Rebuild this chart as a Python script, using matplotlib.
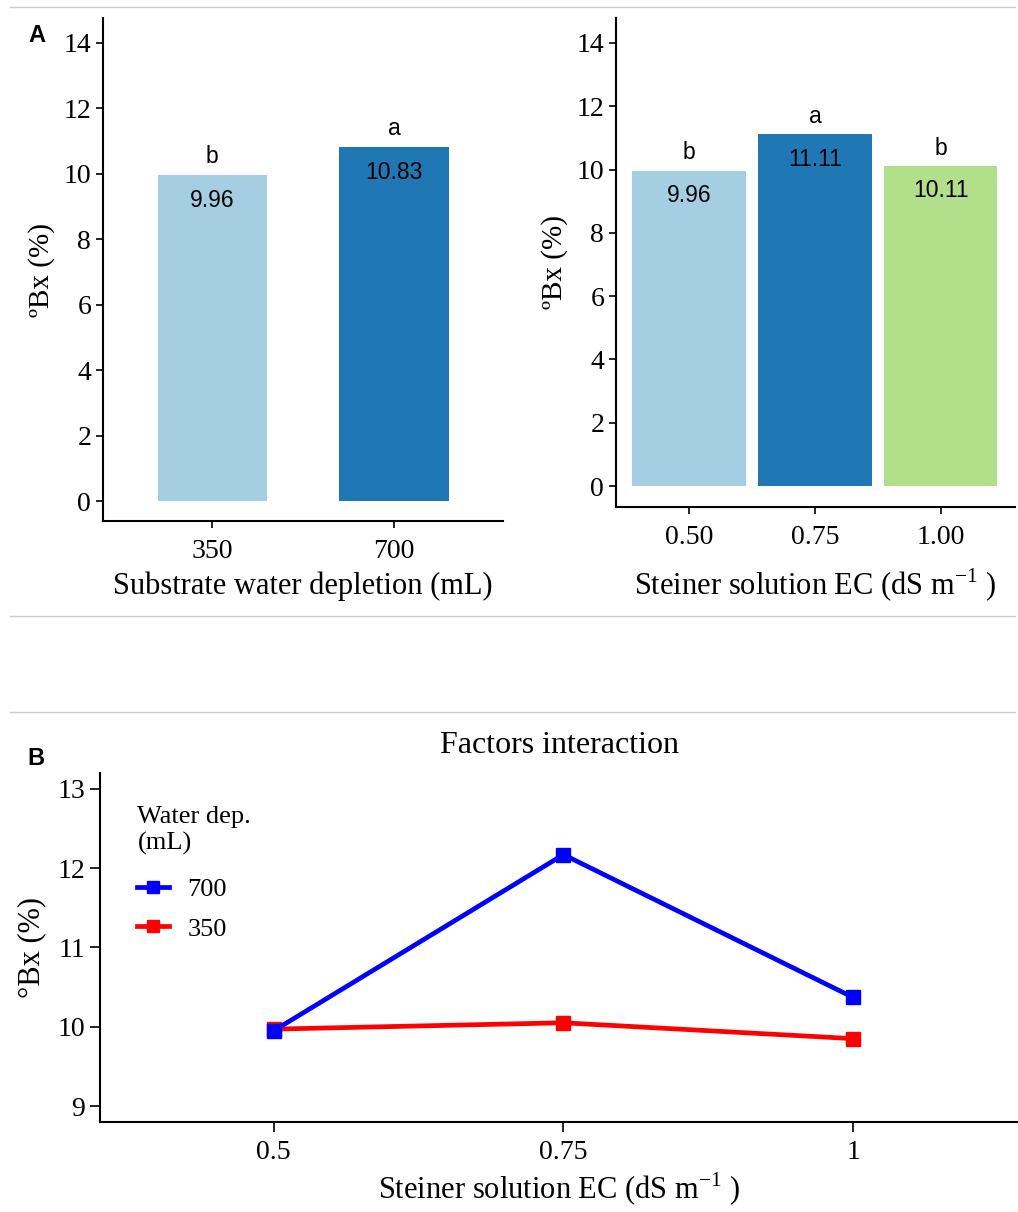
import matplotlib
matplotlib.use("Agg")
import matplotlib.pyplot as plt
from matplotlib.lines import Line2D

plt.rcParams['font.family'] = 'Liberation Serif'
plt.rcParams['mathtext.fontset'] = 'custom'
plt.rcParams['mathtext.rm'] = 'Liberation Serif'

# water depletion means
water_labels = ['350', '700']
water_means = [9.96, 10.83]
water_letters = ['b', 'a']
water_colors = ['#a6cee3', '#1f78b4']

# EC means
ec_labels = ['0.50', '0.75', '1.00']
ec_means = [9.96, 11.11, 10.11]
ec_letters = ['b', 'a', 'b']
ec_colors = ['#a6cee3', '#1f78b4', '#b2df8a']

# interaction
inter_ticks = ['0.5', '0.75', '1']
brix_700 = [9.95, 12.17, 10.37]
brix_350 = [9.97, 10.05, 9.85]

fig = plt.figure(figsize=(10.18, 12.12), dpi=100)

def style_axes(ax, size):
    for s in ['top', 'right']:
        ax.spines[s].set_visible(False)
    for s in ['left', 'bottom']:
        ax.spines[s].set_linewidth(1.5)
    ax.tick_params(direction='out', length=5, width=1.2, labelsize=size, colors='black')

def bar_panel(ax, labels, means, letters, colors, width, xlim, ylim, xlabel, lpad):
    pos = list(range(1, len(labels) + 1))
    ax.bar(pos, means, width=width, color=colors)
    for p, m, l in zip(pos, means, letters):
        ax.text(p, m - 0.78, f'{m:.2f}', ha='center', va='center',
                family='Liberation Sans', fontsize=16.5)
        ax.text(p, m + 0.57, l, ha='center', va='center',
                family='Liberation Sans', fontsize=16.5)
    ax.set_xticks(pos)
    ax.set_xticklabels(labels)
    ax.set_xlim(*xlim)
    ax.set_ylim(*ylim)
    ax.set_yticks(range(0, 15, 2))
    ax.set_xlabel(xlabel, fontsize=22, labelpad=lpad)
    ax.set_ylabel('ºBx (%)', fontsize=21, labelpad=6)
    style_axes(ax, 20)
    ax.tick_params(axis='x', pad=8)

ax1 = fig.add_axes([0.1012, 0.5701, 0.393, 0.415])
bar_panel(ax1, water_labels, water_means, water_letters, water_colors,
          0.6, (0.4, 2.6), (-0.61, 14.76), 'Substrate water depletion (mL)', 5)

ax2 = fig.add_axes([0.6051, 0.5817, 0.392, 0.4035])
bar_panel(ax2, ec_labels, ec_means, ec_letters, ec_colors,
          0.9, (0.42, 3.59), (-0.66, 14.79), r'Steiner solution EC (dS m$^{-1}$ )', 12)

ax3 = fig.add_axes([0.0982, 0.0743, 0.902, 0.288])
xs = [1, 2, 3]
ax3.plot(xs, brix_350, color='red', lw=3.4, marker='s', ms=10, label='350')
ax3.plot(xs, brix_700, color='blue', lw=3.4, marker='s', ms=10, label='700')
ax3.set_xticks(xs)
ax3.set_xticklabels(inter_ticks)
ax3.set_xlim(0.4, 3.57)
ax3.set_ylim(8.8, 13.2)
ax3.set_yticks([9, 10, 11, 12, 13])
ax3.set_title('Factors interaction', fontsize=23, pad=14)
ax3.set_xlabel(r'Steiner solution EC (dS m$^{-1}$ )', fontsize=22, labelpad=4)
ax3.set_ylabel('°Bx (%)', fontsize=22, labelpad=8)
style_axes(ax3, 20)
ax3.tick_params(length=7)
ax3.tick_params(axis='x', pad=6)
h, l = ax3.get_legend_handles_labels()
leg = ax3.legend(h[::-1], l[::-1], title='Water dep.\n(mL)', loc='upper left',
                 bbox_to_anchor=(0.015, 0.972), frameon=False, fontsize=19,
                 title_fontsize=19, handlelength=1.2, labelspacing=0.62,
                 handletextpad=0.7, markerscale=0.9)
leg._legend_box.align = 'left'
leg._legend_box.sep = 16

# panel letters
fig.text(0.028, 0.971, 'A', family='Liberation Sans', weight='bold', fontsize=17,
         va='center')
fig.text(0.027, 0.374, 'B', family='Liberation Sans', weight='bold', fontsize=17,
         va='center')

# separators
for y in [7, 616, 712]:
    fig.add_artist(Line2D([0.01, 0.997], [1 - y / 1212] * 2, color='#cccccc', lw=1))

fig.savefig('out.png', dpi=100)
